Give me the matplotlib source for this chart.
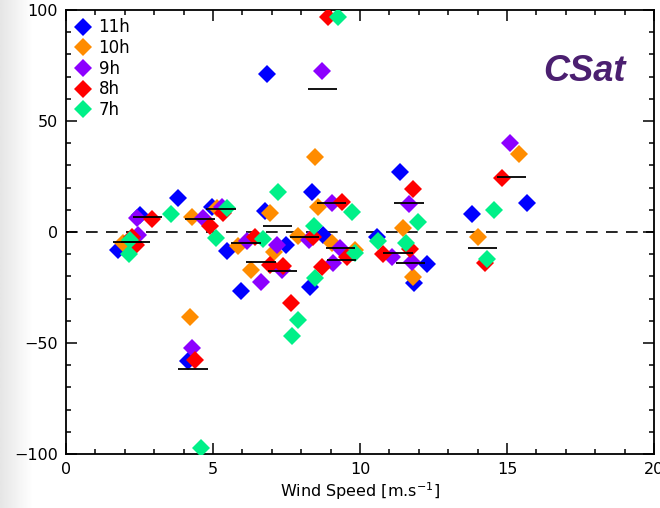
import matplotlib

matplotlib.use("Agg")

import matplotlib.pyplot as plt  # noqa: E402
import numpy as np  # noqa: E402
from matplotlib.ticker import MultipleLocator  # noqa: E402

# bias vs wind speed, one series per hour
hours = ["11h", "10h", "9h", "8h", "7h"]
colors = ["#0000ff", "#ff8c00", "#8c00ff", "#ff0000", "#00f088"]

ws_11 = [1.77, 2.52, 3.81, 4.97, 5.48, 5.95, 6.77, 6.84, 7.48, 8.30, 8.37, 8.74,
         4.15, 10.58, 11.36, 11.84, 12.28, 13.81, 15.68]
bias_11 = [-8.1, 7.7, 15.3, 11.3, -8.6, -26.6, 9.5, 71.2, -5.9, -24.8, 18.0, -1.4,
           -58.1, -2.3, 27.0, -23.0, -14.4, 8.1, 13.1]

ws_10 = [1.94, 4.29, 5.14, 6.94, 8.47, 8.57, 7.89, 9.05, 5.85, 6.29, 7.07, 4.22,
         9.83, 11.46, 11.80, 14.01, 15.41]
bias_10 = [-5.0, 6.8, 10.8, 8.6, 33.8, 11.3, -1.8, -5.0, -6.3, -17.1, -9.0, -38.3,
           -8.1, 1.8, -20.3, -2.3, 35.1]

ws_9 = [2.41, 2.45, 4.66, 5.31, 8.71, 9.05, 8.27, 9.32, 7.18, 6.16, 6.63, 7.35,
        9.08, 4.29, 11.09, 11.67, 11.77, 15.10]
bias_9 = [6.3, -1.4, 6.3, 11.3, 72.5, 13.1, -3.6, -7.2, -5.9, -4.1, -22.5, -17.1,
          -14.0, -52.3, -11.3, 12.6, -13.5, 40.1]

ws_8 = [2.93, 2.24, 2.38, 4.90, 5.34, 8.91, 9.39, 6.43, 8.40, 6.94, 7.38, 7.65,
        8.71, 9.56, 4.39, 10.78, 11.80, 11.70, 14.25, 14.83]
bias_8 = [5.9, -2.3, -5.9, 2.7, 8.6, 97.0, 13.5, -2.3, -2.3, -14.9, -15.3, -32.0,
          -15.8, -11.3, -57.7, -9.9, 19.4, -7.7, -14.0, 24.3]

ws_7 = [2.18, 2.14, 3.57, 5.48, 5.10, 7.21, 6.70, 8.44, 9.73, 9.25, 8.47, 7.89,
        7.69, 4.59, 9.83, 10.61, 11.97, 11.56, 14.32, 14.56]
bias_7 = [-3.6, -9.9, 8.1, 10.8, -2.7, 18.0, -3.2, 2.7, 9.0, 97.0, -20.7, -39.6,
          -46.8, -97.5, -9.5, -4.1, 4.5, -5.0, -12.2, 9.9]

# bin means (short black bars)
mean_ws = [2.10, 2.36, 2.77, 4.56, 5.27, 6.12, 7.20, 8.73, 8.12, 9.03, 9.33,
           6.63, 7.36, 4.32, 9.36, 11.29, 11.72, 11.66, 14.17, 15.16]
mean_bias = [-4.5, -4.5, 6.7, 5.9, 10.2, -4.8, 2.7, 64.4, -2.1, 13.0, -7.0,
             -13.5, -17.6, -61.9, -12.4, -9.5, -14.0, 13.0, -7.2, 24.8]

series_ws = [ws_11, ws_10, ws_9, ws_8, ws_7]
series_bias = [bias_11, bias_10, bias_9, bias_8, bias_7]

plt.rcParams["font.family"] = ["DejaVu Sans"]

fig = plt.figure(figsize=(6.6, 5.08), dpi=100)
fig.set_facecolor("white")

# faint grey slide background on the left edge
bg = fig.add_axes([0, 0, 0.05, 1], zorder=-5)
bg.imshow(np.linspace(0.9, 1.0, 50).reshape(1, -1), cmap="gray", vmin=0, vmax=1,
          aspect="auto", extent=[0, 1, 0, 1])
bg.set_axis_off()

ax = fig.add_axes([0.1, 0.1063, 0.891, 0.874])

for ws, bias, label, color in zip(series_ws, series_bias, hours, colors):
    ax.plot(ws, bias, linestyle="none", marker="D", markersize=8.8,
            markeredgewidth=0, color=color, label=label, zorder=3)

half = 0.5
ax.hlines(mean_bias, np.array(mean_ws) - half, np.array(mean_ws) + half,
          color="black", linewidth=1.3, zorder=4)
ax.axhline(0, color="black", linestyle=(0, (7, 5)), linewidth=1.2, zorder=2)

ax.set_xlim(0, 20)
ax.set_ylim(-100, 100)
ax.xaxis.set_major_locator(MultipleLocator(5))
ax.xaxis.set_minor_locator(MultipleLocator(1))
ax.yaxis.set_major_locator(MultipleLocator(50))
ax.yaxis.set_minor_locator(MultipleLocator(10))
ax.tick_params(which="both", direction="in", top=True, right=True,
               labelsize=11.5, width=1.1)
ax.tick_params(which="major", length=8, pad=6)
ax.tick_params(which="minor", length=3.8)
for spine in ax.spines.values():
    spine.set_linewidth(1.3)

ax.set_xlabel(r"Wind Speed [m.s$^{-1}$]", fontsize=11.5, labelpad=2)

ax.text(0.951, 0.862, "CSat", transform=ax.transAxes, ha="right", va="center",
        fontsize=26, fontweight="bold", fontstyle="italic", color="#4b1f70",
        family=["Liberation Sans", "DejaVu Sans"])

ax.legend(loc="upper left", frameon=False, numpoints=1, fontsize=12,
          handlelength=1.0, handletextpad=0.45, labelspacing=0.16,
          borderpad=0.25, borderaxespad=0.25)

fig.savefig("out.png", dpi=100, facecolor=fig.get_facecolor())
plt.close("all")
